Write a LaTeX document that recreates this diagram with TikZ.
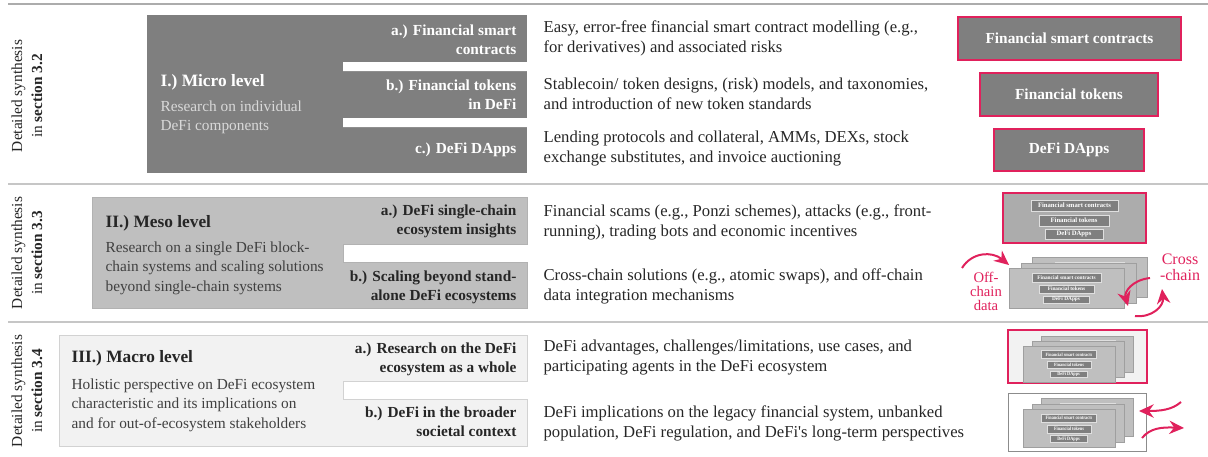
\documentclass[tikz,border=0pt]{standalone}
\usepackage{fontspec}
\setmainfont{Liberation Serif}
\usetikzlibrary{arrows.meta}

\definecolor{pinkred}{HTML}{E0215C}
\definecolor{microgray}{HTML}{7F7F7F}
\definecolor{mesogray}{HTML}{BFBFBF}
\definecolor{macrogray}{HTML}{F2F2F2}
\definecolor{inkgray}{HTML}{262626}
\definecolor{textgray}{HTML}{404040}

\begin{document}
\begin{tikzpicture}[
  x=0.75pt, y=-0.75pt,
  every node/.style={inner sep=1pt, font=\fontsize{11.5}{14.5}\selectfont},
  rule/.style={draw=gray!45, line width=1pt},
  title/.style={anchor=west, font=\fontsize{13}{15}\selectfont\bfseries},
  desc/.style={anchor=west, align=left},
  sublabel/.style={anchor=east, align=right, text=inkgray, font=\fontsize{11.5}{14.5}\selectfont\bfseries},
  topic/.style={anchor=west, align=left, text=inkgray, font=\fontsize{12.5}{15}\selectfont},
  side/.style={rotate=90, align=center, text=inkgray, font=\fontsize{11.5}{15}\selectfont},
  chip/.style={draw=pinkred, line width=1.5pt, fill=microgray, text=white, minimum height=32pt, font=\fontsize{11.5}{14}\selectfont\bfseries},
  minichip/.style={fill=microgray, draw=gray!25, line width=0.3pt, text=white, inner sep=0pt, font=\fontsize{4}{4}\selectfont\bfseries},
  frame/.style={draw=pinkred, line width=1.5pt, inner sep=0pt},
  page/.style={fill=mesogray, draw=gray!75, line width=0.5pt},
  flow/.style={draw=pinkred, line width=1.5pt, -{Stealth[length=11pt,width=10pt]}},
  note/.style={text=pinkred, align=center},
  stack/.pic={
    \foreach \dx/\dy in {23/-11, 12/-5}{
      \filldraw[page] (\dx,\dy) rectangle ++(115,40);
      \filldraw[fill=microgray, draw=gray!25, line width=0.3pt] (\dx+23,\dy+5) rectangle ++(69,9);
    }
    \filldraw[page] (0,0) rectangle (115,40);
    \node[minichip, minimum width=51.75pt, minimum height=6.75pt] (-sc) at (57.5,9.5) {Financial smart contracts};
    \node[minichip, minimum width=41.25pt, minimum height=6pt] (-tk) at (57.5,21) {Financial tokens};
    \node[minichip, minimum width=34.5pt, minimum height=5.25pt] (-da) at (57,31.5) {DeFi DApps};
  }
]
\useasboundingbox (0,0) rectangle (1208,457);

\draw[rule, draw=gray!65] (8,4) -- (1208,4);
\draw[rule] (8,184) -- (1208,184);
\draw[rule] (8,322) -- (1208,322);

\fill[microgray] (147,15) rectangle (527,172.5);
\fill[white] (343,62) rectangle (528,71) (343,118) rectangle (528,127);
\filldraw[fill=mesogray, draw=gray!60] (92,197.5) rectangle (527,308.5);
\filldraw[fill=white, draw=gray!60] (528,244.5) -| (343,262.5) -- (528,262.5);
\filldraw[fill=macrogray, draw=gray!35] (59,335) rectangle (527,446);
\filldraw[fill=white, draw=gray!35] (528,381) -| (343,399.5) -- (528,399.5);

\node[side] (side32) at (27,96) {Detailed synthesis\\in \textbf{section 3.2}};
\node[side] (side33) at (27,253) {Detailed synthesis\\in \textbf{section 3.3}};
\node[side] (side34) at (27,391) {Detailed synthesis\\in \textbf{section 3.4}};

\node[title, text=white] (microtitle) at (159,82) {I.) Micro level};
\node[desc, text=gray!30] (microdesc) at (159,117) {Research on individual\\DeFi components};
\node[sublabel, text=white] (microa) at (518,40) {a.) Financial smart\\contracts};
\node[sublabel, text=white] (microb) at (518,94.5) {b.) Financial tokens\\in DeFi};
\node[sublabel, text=white] (microc) at (518,150) {c.) DeFi DApps};

\node[title, text=inkgray] (mesotitle) at (104,223) {II.) Meso level};
\node[desc, text=textgray] (mesodesc) at (104,268) {Research on a single DeFi block-\\chain systems and scaling solutions\\beyond single-chain systems};
\node[sublabel] (mesoa) at (518,221.5) {a.) DeFi single-chain\\ecosystem insights};
\node[sublabel] (mesob) at (518,287) {b.) Scaling beyond stand-\\alone DeFi ecosystems};

\node[title, text=inkgray] (macrotitle) at (70,358) {III.) Macro level};
\node[desc, text=textgray] (macrodesc) at (70,405) {Holistic perspective on DeFi ecosystem\\characteristic and its implications on\\and for out-of-ecosystem stakeholders};
\node[sublabel] (macroa) at (518,359) {a.) Research on the DeFi\\ecosystem as a whole};
\node[sublabel] (macrob) at (518,422) {b.) DeFi in the broader\\societal context};

\node[topic] (topicsc) at (542,38) {Easy, error-free financial smart contract modelling (e.g.,\\for derivatives) and associated risks};
\node[topic] (topictk) at (542,94) {Stablecoin/ token designs, (risk) models, and taxonomies,\\and introduction of new token standards};
\node[topic] (topicda) at (542,149) {Lending protocols and collateral, AMMs, DEXs, stock\\exchange substitutes, and invoice auctioning};
\node[topic] (topicsingle) at (542,222) {Financial scams (e.g., Ponzi schemes), attacks (e.g., front-\\running), trading bots and economic incentives};
\node[topic] (topicscale) at (542,286) {Cross-chain solutions (e.g., atomic swaps), and off-chain\\data integration mechanisms};
\node[topic] (topicwhole) at (542,358) {DeFi advantages, challenges/limitations, use cases, and\\participating agents in the DeFi ecosystem};
\node[topic] (topicsociety) at (542,423) {DeFi implications on the legacy financial system, unbanked\\population, DeFi regulation, and DeFi\textquotesingle s long-term perspectives};

\node[chip, minimum width=167pt] (chipsc) at (1069.5,38.5) {Financial smart contracts};
\node[chip, minimum width=134pt] (chiptk) at (1069,94.5) {Financial tokens};
\node[chip, minimum width=112.5pt] (chipda) at (1069,150) {DeFi DApps};

\node[frame, fill=gray!65, minimum width=107pt, minimum height=37.5pt] (chainframe) at (1074.5,218) {};
\node[minichip, minimum width=65pt, minimum height=8.25pt, font=\fontsize{5}{5}\selectfont\bfseries] (chainsc) at (1074.5,205.5) {Financial smart contracts};
\node[minichip, minimum width=52.5pt, minimum height=8.25pt, font=\fontsize{5}{5}\selectfont\bfseries] (chaintk) at (1074,220.5) {Financial tokens};
\node[minichip, minimum width=43.5pt, minimum height=7.5pt, font=\fontsize{5}{5}\selectfont\bfseries] (chainda) at (1074,234) {DeFi DApps};

\pic (chainstack) at (1009,268) {stack};
\node[note, font=\fontsize{11}{10.5}\selectfont] (offtext) at (986,291) {Off-\\chain\\data};
\node[note, font=\fontsize{12}{12}\selectfont] (crosstext) at (1180,267) {Cross\\-chain};
\coordinate (offtail) at (962,268);
\coordinate (offhead) at (1009,265);
\draw[flow] (offtail) .. controls (972,252) and (992,251) .. (offhead);
\coordinate (crossatail) at (1150,278);
\coordinate (crossahead) at (1128,306);
\draw[flow] (crossatail) .. controls (1132,280) and (1124,292) .. (crossahead);
\coordinate (crossbtail) at (1135,316);
\coordinate (crossbhead) at (1162,289);
\draw[flow] (crossbtail) .. controls (1152,318) and (1164,306) .. (crossbhead);

\node[frame, fill=macrogray, minimum width=104pt, minimum height=40pt] (wholeframe) at (1077.5,356.5) {};
\pic[xscale=0.8, yscale=0.9, transform shape] (wholestack) at (1023,346) {stack};
\node[draw=gray!90, line width=0.8pt, fill=white, inner sep=0pt, minimum width=104pt, minimum height=44pt] (societyframe) at (1077.5,422.5) {};
\pic[xscale=0.8, yscale=0.95, transform shape] (societystack) at (1023,409) {stack};
\coordinate (inflowtail) at (1181,402);
\coordinate (inflowhead) at (1139,411);
\draw[flow] (inflowtail) .. controls (1172,410) and (1160,411) .. (inflowhead);
\coordinate (outflowtail) at (1142,438);
\coordinate (outflowhead) at (1184,428);
\draw[flow] (outflowtail) .. controls (1150,428) and (1162,427) .. (outflowhead);
\end{tikzpicture}
\end{document}
